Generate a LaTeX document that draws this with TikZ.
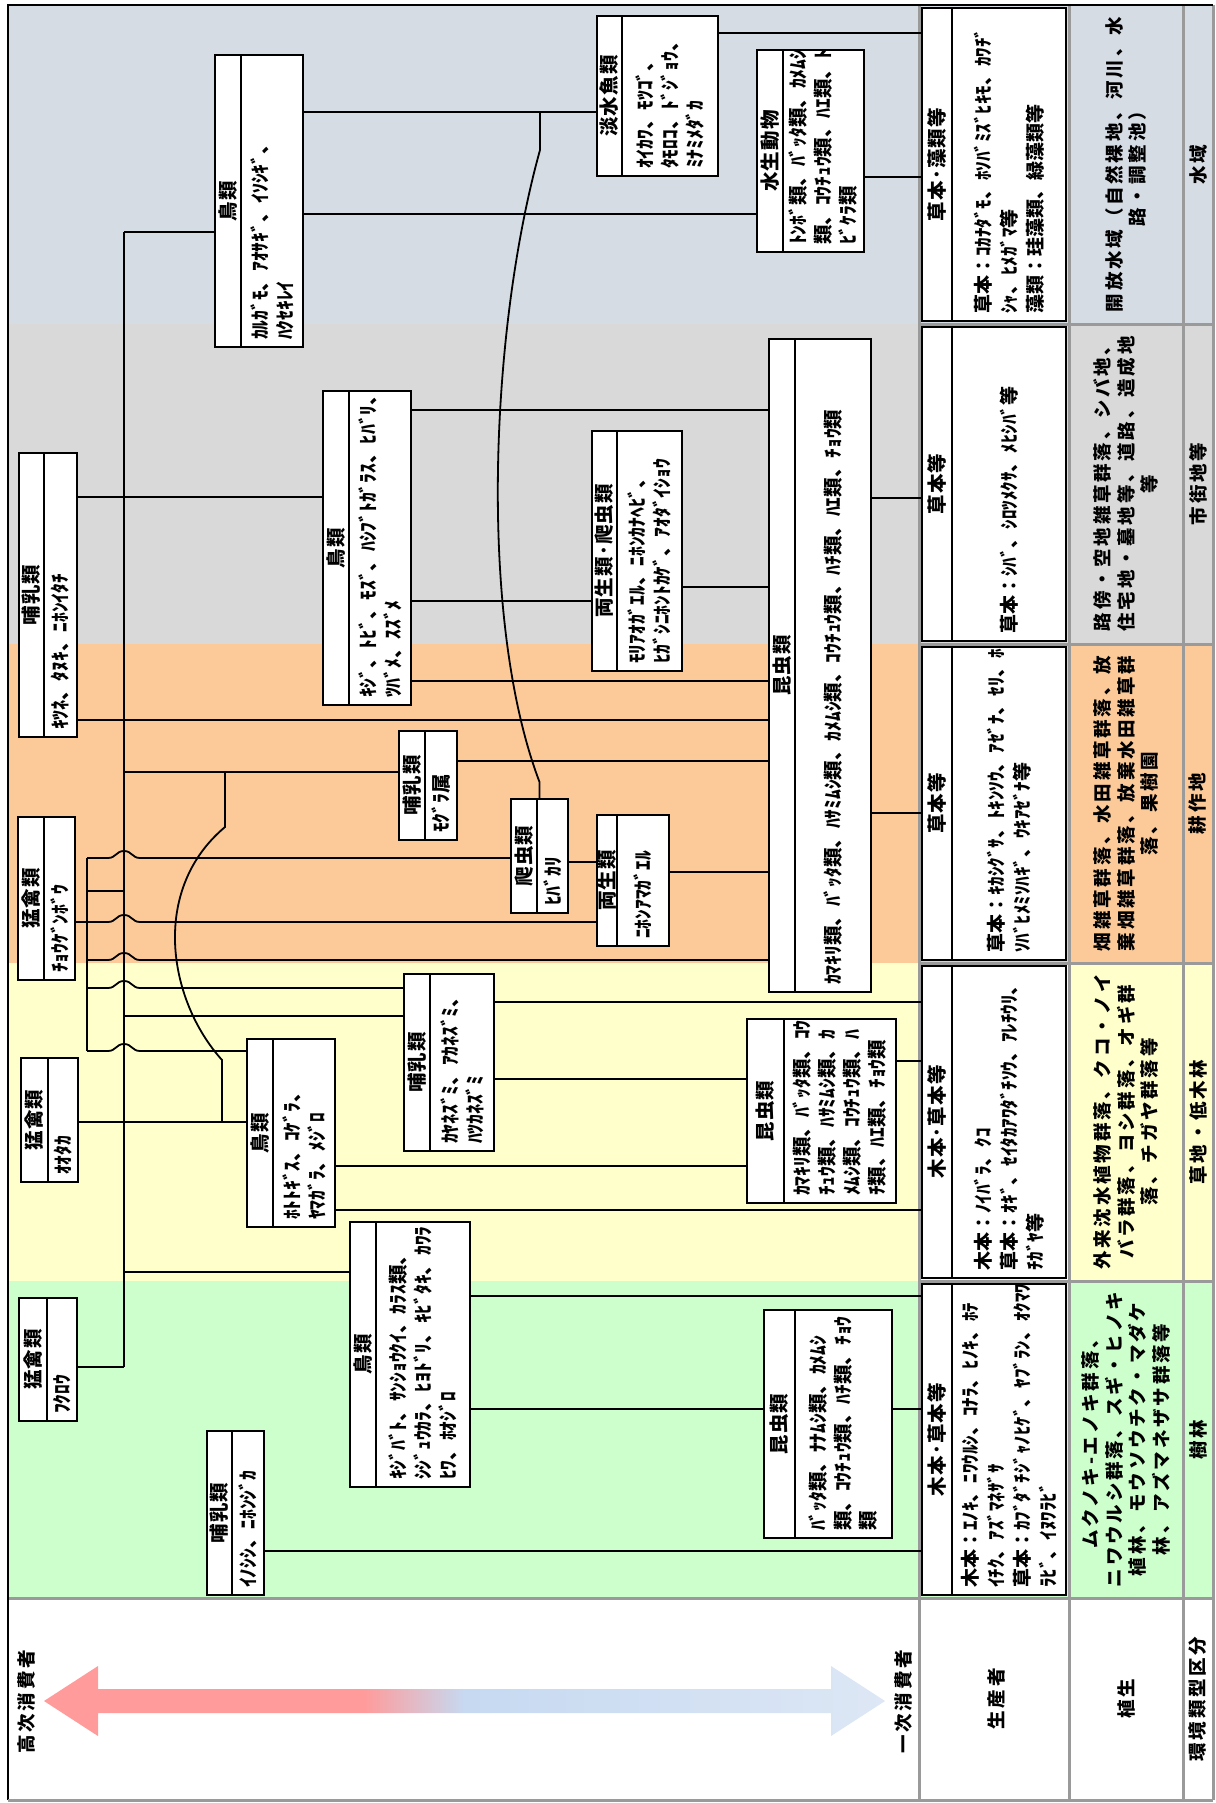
\documentclass[tikz,border=0pt]{standalone}
\usepackage{fontspec}
\setmainfont{Noto Sans CJK JP}
\newfontfamily\spf{Noto Sans CJK JP}[LetterSpace=15]
\newfontfamily\hdf{Noto Sans CJK JP}[LetterSpace=6]
\usetikzlibrary{calc}
\definecolor{cWat}{HTML}{D5DCE4}
\definecolor{cUrb}{HTML}{D9D9D9}
\definecolor{cFarm}{HTML}{FBCA98}
\definecolor{cGrs}{HTML}{FFFFCC}
\definecolor{cFor}{HTML}{CCFFCC}
\definecolor{cGrid}{HTML}{9A9A9A}
\definecolor{arrL}{HTML}{FF9B9B}
\definecolor{arrM}{HTML}{C6D9F1}
\definecolor{arrR}{HTML}{DDE7F5}
\pgfdeclarehorizontalshading{arrsh}{100bp}{color(0bp)=(arrL); color(44bp)=(arrL); color(50bp)=(arrM); color(75bp)=(arrR); color(100bp)=(arrR)}
\tikzset{
 cb/.style={draw=black, line width=1.2pt, fill=white, inner sep=0pt, rectangle},
 hdr/.style={rotate=90, inner sep=0pt, font=\hdf\bfseries\fontsize{19.5}{21}\selectfont},
 bdy/.style={rotate=90, anchor=west, inner sep=0pt, align=left, font=\bfseries\fontsize{19.5}{25}\selectfont},
 pbdy/.style={rotate=90, anchor=west, inner sep=0pt, align=left, font=\bfseries\fontsize{19}{26}\selectfont},
 cn/.style={line width=1.8pt, draw=black},
 grd/.style={line width=3pt, draw=cGrid},
 spt/.style={rotate=90, inner sep=0pt, align=center, font=\spf\bfseries\fontsize{18.5}{23.5}\selectfont},
 hop/.style={insert path={.. controls +(8,0) and +(-8,0) .. ++(16,7) .. controls +(8,0) and +(-8,0) .. ++(16,-7)}},
}
% name, x1, y1, x2, y2, xsplit, title, body
\newcommand{\cbox}[8]{%
 \node[cb, minimum width={#4-#2}, minimum height={#5-#3}] (#1) at ({(#2+#4)/2},{-(#3+#5)/2}) {};
 \draw[line width=1.2pt] (#6,-#3) -- (#6,-#5);
 \node[hdr] (#1-h) at ({(#2+#6)/2},{-(#3+#5)/2}) {#7};
 \node[bdy] (#1-b) at ({(#6+#4)/2},{-#5+7}) {#8};
}
% name, y1, y2, title, body
\newcommand{\pbox}[5]{%
 \node[cb, minimum width=144, minimum height={#3-#2-6}] (#1) at (994,{-(#2+#3)/2}) {};
 \draw[line width=1.2pt] (952,{-#2-3}) -- (952,{-#3+3});
 \node[hdr] (#1-h) at (937,{-(#2+#3)/2}) {#4};
 \node[pbdy] (#1-b) at (1009,{-#3+10}) {#5};
}
\begin{document}
\begin{tikzpicture}[x=1pt,y=1pt]
\useasboundingbox (0,0) rectangle (1215,-1803);
% environment bands
\fill[cWat] (8,-5) rectangle (1213,-324);
\fill[cUrb] (8,-324) rectangle (1213,-644);
\fill[cFarm] (8,-644) rectangle (1213,-963);
\fill[cGrs] (8,-963) rectangle (1213,-1281);
\fill[cFor] (8,-1281) rectangle (1213,-1598);
\fill[white] (8,-1598) rectangle (1213,-1800);
% grid
\foreach \yy in {324,644,963,1281} {\draw[grd] (919,-\yy) -- (1213,-\yy);}
\draw[grd] (8,-1598) -- (1213,-1598);
\draw[grd] (919,-5) -- (919,-1800);
\draw[grd] (1069.5,-5) -- (1069.5,-1800);
\draw[grd] (1183,-5) -- (1183,-1800);
\draw[grd] (1213,-5) -- (1213,-1800);
\draw[line width=1.6pt] (8,-1800) -- (8,-5) -- (1213,-5);
\draw[grd] (8,-1800) -- (1213,-1800);

% producers
\pbox{P1}{5}{324}{草本･藻類等}{草本：ｺｶﾅﾀﾞﾓ、ﾎｿﾊﾞﾐｽﾞﾋｷﾓ、ｶﾜﾁﾞ\\ｼｬ、ﾋﾒｶﾞﾏ等\\藻類：珪藻類、緑藻類等}
\pbox{P2}{324}{644}{草本等}{草本：ｼﾊﾞ、ｼﾛﾂﾒｸｻ、ﾒﾋｼﾊﾞ等}
\pbox{P3}{644}{963}{草本等}{草本：ｷｶｼｸﾞｻ、ﾄｷﾝｿｳ、ｱｾﾞﾅ、ｾﾘ、ﾎ\\ｿﾊﾞﾋﾒﾐｿﾊｷﾞ、ｳｷｱｾﾞﾅ等}
\pbox{P4}{963}{1281}{木本･草本等}{木本：ﾉｲﾊﾞﾗ、ｸｺ\\草本：ｵｷﾞ、ｾｲﾀｶｱﾜﾀﾞﾁｿｳ、ｱﾚﾁｳﾘ、\\ﾁｶﾞﾔ等}
\pbox{P5}{1281}{1598}{木本･草本等}{木本：ｴﾉｷ、ﾆﾜｳﾙｼ、ｺﾅﾗ、ﾋﾉｷ、ﾎﾃ\\ｲﾁｸ、ｱｽﾞﾏﾈｻﾞｻ\\草本：ｶﾌﾞﾀﾞﾁｼﾞｬﾉﾋｹﾞ、ﾔﾌﾞﾗﾝ、ｵｸﾏﾜ\\ﾗﾋﾞ、ｲﾇﾜﾗﾋﾞ}

% vegetation
\node[spt] (veg1) at (1126,-164.5) {開放水域（自然裸地、河川、水\\路・調整池）};
\node[spt] (veg2) at (1126,-484) {路傍・空地雑草群落、シバ地、\\住宅地・墓地等、道路、造成地\\等};
\node[spt] (veg3) at (1126,-803.5) {畑雑草群落、水田雑草群落、放\\棄畑雑草群落、放棄水田雑草群\\落、果樹園};
\node[spt] (veg4) at (1126,-1122) {外来沈水植物群落、クコ・ノイ\\バラ群落、ヨシ群落、オギ群\\落、チガヤ群落等};
\node[spt] (veg5) at (1126,-1439.5) {ムクノキ-エノキ群落、\\ニワウルシ群落、スギ・ヒノキ\\植林、モウソウチク・マダケ\\林、アズマネザサ群落等};
% environment types
\node[spt] (env1) at (1198,-164.5) {水域};
\node[spt] (env2) at (1198,-484) {市街地等};
\node[spt] (env3) at (1198,-803.5) {耕作地};
\node[spt] (env4) at (1198,-1122) {草地・低木林};
\node[spt] (env5) at (1198,-1439.5) {樹林};
% label row
\node[spt] (lab1) at (996,-1699) {生産者};
\node[spt] (lab2) at (1126,-1699) {植生};
\node[spt] (lab3) at (1198,-1699) {環境類型区分};
\node[spt] (hiC) at (26,-1702) {高次消費者};
\node[spt] (loC) at (903,-1702) {一次消費者};
\shade[shading=arrsh] (44,-1701) -- (98,-1666) -- (98,-1689) -- (831,-1689) -- (831,-1666) -- (885,-1701) -- (831,-1736) -- (831,-1713) -- (98,-1713) -- (98,-1736) -- cycle;

% consumers
\cbox{birdW}{215}{55}{303}{347}{241}{鳥類}{ｶﾙｶﾞﾓ、ｱｵｻｷﾞ、ｲｿｼｷﾞ、\\ﾊｸｾｷﾚｲ}
\cbox{fish}{597}{16}{718}{176}{622}{淡水魚類}{ｵｲｶﾜ、ﾓﾂｺﾞ、\\ﾀﾓﾛｺ、ﾄﾞｼﾞｮｳ、\\ﾐﾅﾐﾒﾀﾞｶ}
\cbox{aqua}{757}{50}{864}{252}{783}{水生動物}{ﾄﾝﾎﾞ類、ﾊﾞｯﾀ類、ｶﾒﾑｼ\\類、ｺｳﾁｭｳ類、ﾊｴ類、ﾄ\\ﾋﾞｹﾗ類}
\cbox{mamU}{19}{453}{77}{737}{44}{哺乳類}{ｷﾂﾈ、ﾀﾇｷ、ﾆﾎﾝｲﾀﾁ}
\cbox{birdU}{323}{391}{411}{705}{349}{鳥類}{ｷｼﾞ、ﾄﾋﾞ、ﾓｽﾞ、ﾊｼﾌﾞﾄｶﾞﾗｽ、ﾋﾊﾞﾘ、\\ﾂﾊﾞﾒ、ｽｽﾞﾒ}
\cbox{amph}{592}{431}{682}{671}{617}{両生類･爬虫類}{ﾓﾘｱｵｶﾞｴﾙ、ﾆﾎﾝｶﾅﾍﾋﾞ、\\ﾋｶﾞｼﾆﾎﾝﾄｶｹﾞ、ｱｵﾀﾞｲｼｮｳ}
\cbox{insU}{769}{339}{871}{992}{795}{昆虫類}{ｶﾏｷﾘ類、ﾊﾞｯﾀ類、ﾊｻﾐﾑｼ類、ｶﾒﾑｼ類、ｺｳﾁｭｳ類、ﾊﾁ類、ﾊｴ類、ﾁｮｳ類}
\cbox{raptC}{18}{817}{75}{980}{44}{猛禽類}{ﾁｮｳｹﾞﾝﾎﾞｳ}
\cbox{mole}{399}{731}{457}{840}{425}{哺乳類}{ﾓｸﾞﾗ属}
\cbox{rept}{511}{799}{568}{913}{537}{爬虫類}{ﾋﾊﾞｶﾘ}
\cbox{frog}{597}{815}{669}{946}{617}{両生類}{ﾆﾎﾝｱﾏｶﾞｴﾙ}
\cbox{mouse}{404}{974}{494}{1151}{430}{哺乳類}{ｶﾔﾈｽﾞﾐ、ｱｶﾈｽﾞﾐ、\\ﾊﾂｶﾈｽﾞﾐ}
\cbox{raptO}{21}{1058}{78}{1182}{48}{猛禽類}{ｵｵﾀｶ}
\cbox{birdG}{247}{1039}{335}{1227}{273}{鳥類}{ﾎﾄﾄｷﾞｽ、ｺｹﾞﾗ、\\ﾔﾏｶﾞﾗ、ﾒｼﾞﾛ}
\cbox{insG}{747}{1019}{896}{1203}{784}{昆虫類}{ｶﾏｷﾘ類、ﾊﾞｯﾀ類、ｺｳ\\ﾁｭｳ類、ﾊｻﾐﾑｼ類、ｶ\\ﾒﾑｼ類、ｺｳﾁｭｳ類、ﾊ\\ﾁ類、ﾊｴ類、ﾁｮｳ類}
\cbox{birdF}{350}{1222}{470}{1487}{376}{鳥類}{ｷｼﾞﾊﾞﾄ、ｻﾝｼｮｳｸｲ、ｶﾗｽ類、\\ｼｼﾞｭｳｶﾗ、ﾋﾖﾄﾞﾘ、ｷﾋﾞﾀｷ、ｶﾜﾗ\\ﾋﾜ、ﾎｵｼﾞﾛ}
\cbox{raptF}{19}{1298}{77}{1421}{47}{猛禽類}{ﾌｸﾛｳ}
\cbox{boar}{207}{1431}{264}{1595}{232}{哺乳類}{ｲﾉｼｼ、ﾆﾎﾝｼﾞｶ}
\cbox{insF}{764}{1310}{892}{1538}{795}{昆虫類}{ﾊﾞｯﾀ類、ﾅﾅﾑｼ類、ｶﾒﾑｼ\\類、ｺｳﾁｭｳ類、ﾊﾁ類、ﾁｮｳ\\類}

% buses
\coordinate (v1t) at (124,-232);
\coordinate (v1b) at (124,-1367);
\coordinate (v2t) at (87,-858);
\coordinate (v2b) at (87,-1051);
\draw[cn] (v1t) -- (v1b);
\draw[cn] (v2t) -- (v2b);

% water
\draw[cn] (v1t) -- (birdW.west |- v1t);
\draw[cn] (birdW.east |- 0,-112) -- (fish.west |- 0,-112);
\draw[cn] (birdW.east |- 0,-214) -- (aqua.west |- 0,-214);
\draw[cn] (fish.east |- 0,-33) -- (P1.west |- 0,-33);
\draw[cn] (aqua.east |- 0,-177) -- (P1.west |- 0,-177);
\coordinate (j1) at (540,-112);
\draw[cn] (j1) -- (540,-150) .. controls (490,-330) and (478,-620) .. (rept.north |- 0,-782) -- (rept.north);

% urban
\draw[cn] (mamU.east |- 0,-497) -- (birdU.west |- 0,-497);
\draw[cn] (birdU.east |- 0,-410) -- (insU.west |- 0,-410);
\draw[cn] (insU.east |- 0,-498) -- (P2.west |- 0,-498);
\draw[cn] (birdU.east |- 0,-601) -- (amph.west |- 0,-601);
\draw[cn] (amph.east |- 0,-587) -- (insU.west |- 0,-587);
\draw[cn] (birdU.east |- 0,-681) -- (insU.west |- 0,-681);
\draw[cn] (mamU.east |- 0,-720) -- (insU.west |- 0,-720);

% farmland
\draw[cn] (mole.east |- 0,-761) -- (insU.west |- 0,-761);
\draw[cn] (v1t |- 0,-772) -- (mole.west |- 0,-772);
\coordinate (j2) at (225,-772);
\coordinate (j3) at (222,-1122);
\draw[cn] (j2) -- (225,-827) .. controls (150,-890) and (168,-1000) .. (222,-1060) -- (j3);
\draw[cn] (v2t) -- (108,-858) [hop] -- (rept.west |- 0,-858);
\draw[cn] (v2t |- 0,-891) -- (v1t |- 0,-891);
\draw[cn] (raptC.east |- 0,-922) -- (108,-922) [hop] -- (frog.west |- 0,-922);
\draw[cn] (v2t |- 0,-960) -- (108,-960) [hop] -- (insU.west |- 0,-960);
\draw[cn] (v2t |- 0,-988) -- (108,-988) [hop] -- (mouse.west |- 0,-988);
\draw[cn] (v2b) -- (108,-1051) [hop] -- (birdG.west |- 0,-1051);
\draw[cn] (rept.east |- 0,-862) -- (frog.west |- 0,-862);
\draw[cn] (frog.east |- 0,-872) -- (insU.west |- 0,-872);
\draw[cn] (insU.east |- 0,-813) -- (P3.west |- 0,-813);

% grassland
\draw[cn] (v1t |- 0,-1016) -- (mouse.west |- 0,-1016);
\draw[cn] (raptO.east |- 0,-1122) -- (birdG.west |- 0,-1122);
\draw[cn] (mouse.east |- 0,-1002) -- (P4.west |- 0,-1002);
\draw[cn] (mouse.east |- 0,-1079) -- (insG.west |- 0,-1079);
\draw[cn] (insG.east |- 0,-1061) -- (P4.west |- 0,-1061);
\draw[cn] (birdG.east |- 0,-1166) -- (insG.west |- 0,-1166);
\draw[cn] (birdG.east |- 0,-1210) -- (P4.west |- 0,-1210);

% forest
\draw[cn] (v1t |- 0,-1272) -- (birdF.west |- 0,-1272);
\draw[cn] (birdF.east |- 0,-1296) -- (P5.west |- 0,-1296);
\draw[cn] (birdF.east |- 0,-1409) -- (insF.west |- 0,-1409);
\draw[cn] (insF.east |- 0,-1409) -- (P5.west |- 0,-1409);
\draw[cn] (boar.east |- 0,-1551) -- (P5.west |- 0,-1551);
\draw[cn] (raptF.east |- 0,-1367) -- (v1b);
\end{tikzpicture}
\end{document}
